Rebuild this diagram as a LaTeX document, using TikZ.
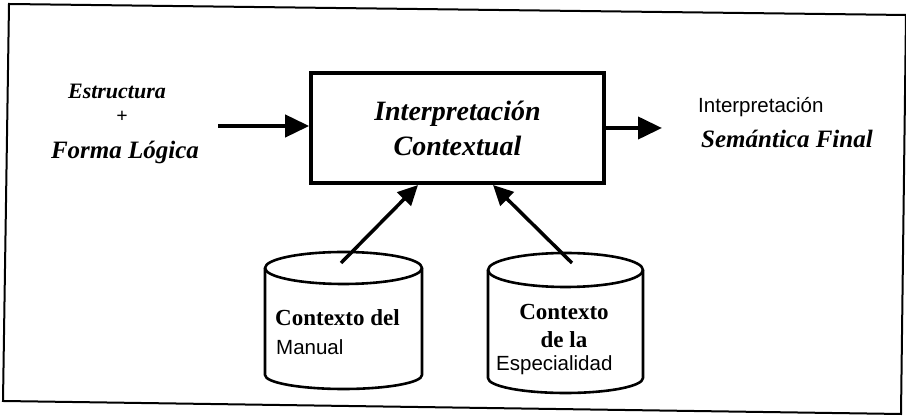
\documentclass[tikz,border=0pt]{standalone}
\usepackage{fontspec}
\setmainfont{Liberation Serif}
\newfontfamily\arialf{Liberation Sans}
\usetikzlibrary{arrows.meta,calc}
\tikzset{
  bigarrow/.style={line width=4pt,-{Triangle[length=24pt,width=22pt]}},
  diagarrow/.style={line width=3.5pt,-{Triangle[length=20pt,width=19pt]}},
  cyl/.style={line width=2.6pt,line join=round},
  mainbox/.style={draw,line width=3.6pt,minimum width=293pt,minimum height=110pt,inner sep=0pt,align=center,
    font=\fontsize{28}{35}\selectfont\bfseries\itshape},
  bi/.style={font=\fontsize{22}{30}\selectfont\bfseries\itshape,inner sep=0pt},
  bibig/.style={font=\fontsize{25}{30}\selectfont\bfseries\itshape,inner sep=0pt},
  sans/.style={font=\arialf\fontsize{20.5}{24}\selectfont,inner sep=0pt},
  bser/.style={font=\fontsize{23}{28}\selectfont\bfseries,inner sep=0pt}
}
\begin{document}
\begin{tikzpicture}[x=1pt,y=1pt]
\useasboundingbox (0,0) rectangle (906,417);
% outer frame (slightly rotated scan)
\draw[line width=2pt,line join=miter] (9,413) -- (906,402) -- (901,3) -- (3,16) -- cycle;

% main box
\node[mainbox] (box) at (457.5,289) {Interpretación\\Contextual};

% left label
\node[bi] (l1) at (117,326) {Estructura};
\node[font=\fontsize{20}{24}\selectfont\bfseries,inner sep=0pt] (l2) at (122,300) {+};
\node[bibig] (l3) at (125,265) {Forma Lógica};
\coordinate (lsrc) at (218,291);
\draw[bigarrow] (lsrc) -- (lsrc -| box.west);

% right output
\coordinate (rtip) at (662,289);
\draw[bigarrow] (rtip -| box.east) -- (rtip);
\node[sans,anchor=west] (out1) at (698,310) {Interpretación};
\node[bibig,anchor=west] (out2) at (701,278) {Semántica Final};

% cylinder 1
\draw[cyl] (343.5,149) ellipse [x radius=78.5pt, y radius=16pt];
\draw[cyl] (265,149) -- (265,42) arc[start angle=180,end angle=360,x radius=78.5pt,y radius=14pt] -- (422,149);
\node[bser,anchor=west] (c1a) at (275,99) {Contexto del};
\node[sans,anchor=west] (c1b) at (276,70) {Manual};
\coordinate (c1top) at (341,154);
\coordinate (t1) at (418,232);

% cylinder 2
\draw[cyl] (565.5,147) ellipse [x radius=77.5pt, y radius=17pt];
\draw[cyl] (488,147) -- (488,39) arc[start angle=180,end angle=360,x radius=77.5pt,y radius=15pt] -- (643,147);
\node[bser] (c2a) at (564,105) {Contexto};
\node[bser] (c2b) at (564,77) {de la};
\node[sans,anchor=west] (c2c) at (496,52) {Especialidad};
\coordinate (c2top) at (572,154);
\coordinate (t2) at (493,232);

\draw[diagarrow] (c1top) -- (t1);
\draw[diagarrow] (c2top) -- (t2);
\end{tikzpicture}
\end{document}
